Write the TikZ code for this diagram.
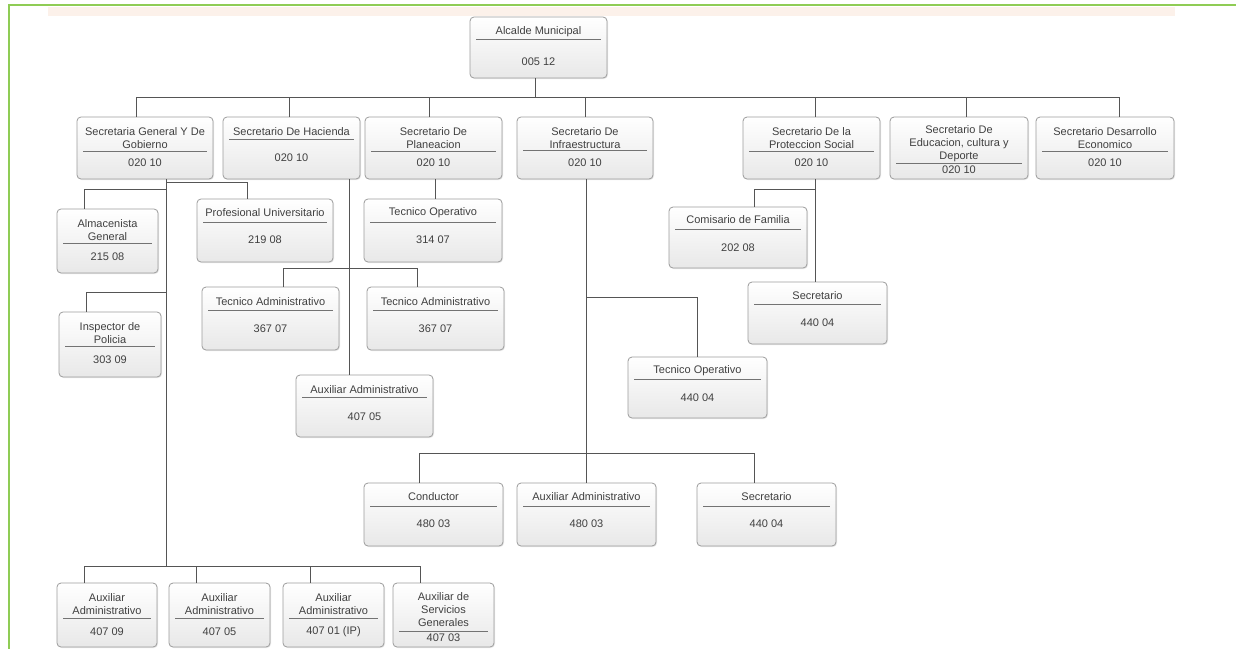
\documentclass[tikz,border=0pt]{standalone}
\usepackage{fontspec}
\setmainfont{Liberation Sans}
\usetikzlibrary{shadows,calc}
\definecolor{framegreen}{HTML}{8FCC55}
\definecolor{peach}{HTML}{FCF1EA}
\definecolor{lnk}{HTML}{555555}
\definecolor{bord}{HTML}{9C9C9C}
\tikzset{
 orgbox/.style={draw=bord, line width=0.8pt, rounded corners=4pt, top color=white, bottom color=black!9,
   inner sep=0pt, outer sep=0pt, drop shadow={shadow xshift=1pt, shadow yshift=-1pt, opacity=0.18}},
 lbl/.style={font=\fontsize{11}{13}\selectfont, text=black!75, align=center, inner sep=0pt},
 divline/.style={draw=black!55, line width=0.8pt},
 link/.style={draw=lnk, line width=0.9pt},
}
\newcommand\obox[5]{\node[orgbox, minimum width={(#4-#2)*1pt}, minimum height={(#5-#3)*1pt}] (#1) at ({(#2+#4)/2},{(#3+#5)/2}) {};}
\newcommand\olab[6]{%
 \node[lbl] (#1-a) at (#1.center |- 0,#2) {#3};
 \draw[divline] ($(#1.west |- 0,#4)+(6pt,0)$) -- ($(#1.east |- 0,#4)+(-6pt,0)$);
 \node[lbl] (#1-b) at (#1.center |- 0,#5) {#6};}
\begin{document}
\begin{tikzpicture}[x=1pt,y=-1pt]
\useasboundingbox (0,0) rectangle (1236,648);
\fill[white] (0,0) rectangle (1236,648);
\fill[peach] (48,7) rectangle (1175,16);
\draw[framegreen, line width=2.8pt] (9,650) -- (9,5) -- (1238,5);

% boxes
\obox{alc}{470}{17}{607}{78}
\obox{sg}{77}{117}{213}{179}
\obox{hac}{223}{117}{360}{179}
\obox{pla}{365}{117}{502}{179}
\obox{inf}{517}{117}{653}{179}
\obox{pro}{743}{117}{880}{179}
\obox{edu}{890}{117}{1028}{179}
\obox{des}{1036}{117}{1174}{179}
\obox{alm}{57}{209}{158}{273}
\obox{prof}{197}{199}{333}{262}
\obox{tecop}{364}{199}{502}{262}
\obox{com}{669}{207}{807}{268}
\obox{ta1}{202}{287}{339}{350}
\obox{ta2}{367}{287}{504}{350}
\obox{insp}{59}{312}{161}{377}
\obox{sec1}{748}{282}{887}{344}
\obox{tecop2}{628}{357}{767}{418}
\obox{aux1}{296}{375}{433}{437}
\obox{cond}{364}{483}{503}{546}
\obox{aux2}{517}{483}{656}{546}
\obox{sec2}{697}{483}{836}{546}
\obox{b1}{57}{583}{157}{647}
\obox{b2}{169}{583}{270}{647}
\obox{b3}{283}{583}{384}{647}
\obox{b4}{393}{583}{494}{647}

% labels
\olab{alc}{32}{Alcalde Municipal}{39}{62}{005 12}
\olab{sg}{138.5}{Secretaria General Y De\\Gobierno}{151}{163}{020 10}
\olab{hac}{132}{Secretario De Hacienda}{139}{158}{020 10}
\olab{pla}{138.5}{Secretario De\\Planeacion}{151}{163}{020 10}
\olab{inf}{138.5}{Secretario De\\Infraestructura}{150}{163}{020 10}
\olab{pro}{138.5}{Secretario De la\\Proteccion Social}{151}{163}{020 10}
\olab{edu}{144}{Secretario De\\Educacion, cultura y\\Deporte}{163}{170}{020 10}
\olab{des}{138.5}{Secretario Desarrollo\\Economico}{151}{163}{020 10}
\olab{alm}{230}{Almacenista\\General}{243}{257}{215 08}
\olab{prof}{213}{Profesional Universitario}{222}{240}{219 08}
\olab{tecop}{213}{Tecnico Operativo}{222}{240}{314 07}
\olab{com}{220}{Comisario de Familia}{229}{248}{202 08}
\olab{ta1}{302}{Tecnico Administrativo}{310}{329}{367 07}
\olab{ta2}{302}{Tecnico Administrativo}{310}{329}{367 07}
\olab{insp}{333}{Inspector de\\Policia}{346}{360}{303 09}
\olab{sec1}{296}{Secretario}{304}{323}{440 04}
\olab{tecop2}{371}{Tecnico Operativo}{379}{398}{440 04}
\olab{aux1}{390}{Auxiliar Administrativo}{397}{417}{407 05}
\olab{cond}{497}{Conductor}{506}{524}{480 03}
\olab{aux2}{497}{Auxiliar Administrativo}{506}{524}{480 03}
\olab{sec2}{497}{Secretario}{506}{524}{440 04}
\olab{b1}{604.5}{Auxiliar\\Administrativo}{618}{632}{407 09}
\olab{b2}{604.5}{Auxiliar\\Administrativo}{618}{632}{407 05}
\olab{b3}{604.5}{Auxiliar\\Administrativo}{618}{632}{407 01 (IP)}
\olab{b4}{610}{Auxiliar de\\Servicios\\Generales}{631}{638}{407 03}

% connectors
\draw[link] (alc.south -| 535,0) -- (535,97);
\draw[link] (sg.north -| 136,0) -- (136,97) -- (1119,97) -- (des.north -| 1119,0);
\draw[link] (hac.north -| 289,0) -- (289,97);
\draw[link] (pla.north -| 429,0) -- (429,97);
\draw[link] (inf.north -| 585,0) -- (585,97);
\draw[link] (pro.north -| 815,0) -- (815,97);
\draw[link] (edu.north -| 966,0) -- (966,97);

\draw[link] (sg.south -| 166,0) -- (166,566);
\draw[link] (166,182) -| (prof.north -| 247,0);
\draw[link] (166,189) -| (alm.north -| 84,0);
\draw[link] (166,292) -| (insp.north -| 86,0);
\draw[link] (b1.north -| 84,0) -- (84,566) -- (420,566) -- (b4.north -| 420,0);
\draw[link] (b2.north -| 196,0) -- (196,566);
\draw[link] (b3.north -| 310,0) -- (310,566);

\draw[link] (hac.south -| 349,0) -- (aux1.north -| 349,0);
\draw[link] (ta1.north -| 283,0) -- (283,268) -- (417,268) -- (ta2.north -| 417,0);

\draw[link] (pla.south -| 435,0) -- (tecop.north -| 435,0);

\draw[link] (inf.south -| 586,0) -- (aux2.north -| 586,0);
\draw[link] (586,297) -| (tecop2.north -| 697,0);
\draw[link] (cond.north -| 419,0) -- (419,453) -- (754,453) -- (sec2.north -| 754,0);

\draw[link] (pro.south -| 815,0) -- (sec1.north -| 815,0);
\draw[link] (815,189) -| (com.north -| 754,0);
\end{tikzpicture}
\end{document}
